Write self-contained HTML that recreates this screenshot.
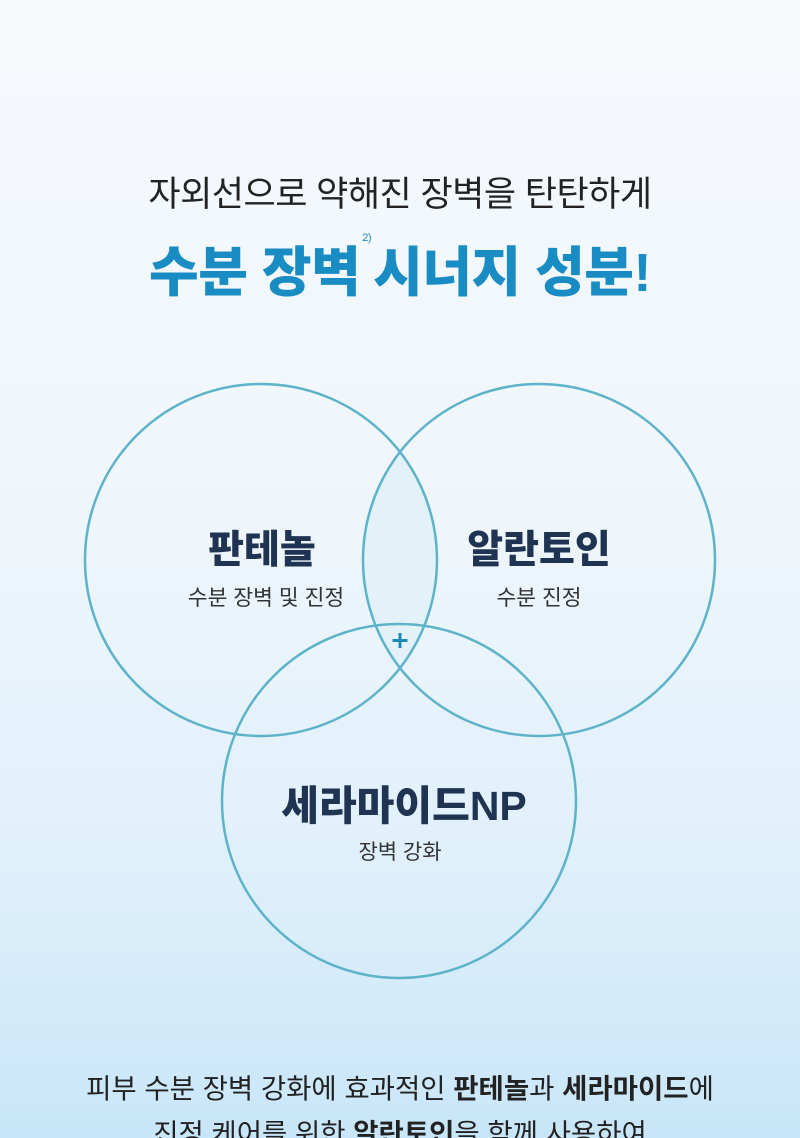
<!DOCTYPE html>
<html style="height:1138px;overflow:hidden"><head><meta charset="utf-8"><style>
html,body{margin:0;padding:0}
body{width:800px;height:1138px;overflow:hidden;position:relative;background:linear-gradient(180deg,#f6f9fc 0%,#eff6fb 45%,#e0f0fb 75%,#c8e6f9 100%);font-family:"Liberation Sans","Noto Sans CJK KR",sans-serif}
.t{position:absolute;left:0;width:800px;text-align:center;white-space:nowrap}
</style></head><body>
<div class="t" style="top:166px;font-size:35px;color:#222;letter-spacing:-0.5px">자외선으로 약해진 장벽을 탄탄하게</div>
<div class="t" style="top:228px;font-size:54px;font-weight:900;color:#1a8cc4;letter-spacing:-0.5px">수분 장벽<sup style="font-size:11px;font-weight:400;vertical-align:top;position:relative;top:4px;margin:0 2px">2)</sup>시너지 성분!</div>
<svg style="position:absolute;left:0;top:0" width="800" height="1138">
<defs><clipPath id="a"><circle cx="261" cy="560" r="176"/></clipPath><clipPath id="b"><circle cx="539" cy="560" r="176"/></clipPath></defs>
<g clip-path="url(#a)"><circle cx="539" cy="560" r="176" fill="#e3f2f9" clip-path="url(#b)"/></g>
<g fill="none" stroke="#5db3c9" stroke-width="2.5">
<circle cx="261" cy="560" r="176"/><circle cx="539" cy="560" r="176"/><circle cx="399" cy="801" r="177"/></g>
<path d="M400 633v15M392.5 640.5h15" stroke="#1f8bb5" stroke-width="3"/>
</svg>
<div class="t" style="left:-138px;top:519px;font-size:39px;font-weight:900;color:#1f3352">판테놀</div>
<div class="t" style="left:-134px;top:581px;font-size:21.5px;color:#333">수분 장벽 및 진정</div>
<div class="t" style="left:139px;top:519px;font-size:39px;font-weight:900;color:#1f3352">알란토인</div>
<div class="t" style="left:139px;top:581px;font-size:21.5px;color:#333">수분 진정</div>
<div class="t" style="left:4px;top:772px;font-size:41px;font-weight:900;color:#1f3352">세라마이드NP</div>
<div class="t" style="left:0px;top:836px;font-size:21px;color:#333">장벽 강화</div>
<div class="t" style="top:1066px;font-size:27.5px;color:#222">피부 수분 장벽 강화에 효과적인 <b>판테놀</b>과 <b>세라마이드</b>에</div>
<div class="t" style="top:1111px;font-size:27.5px;color:#222">진정 케어를 위한 <b>알란토인</b>을 함께 사용하여</div>
</body></html>
